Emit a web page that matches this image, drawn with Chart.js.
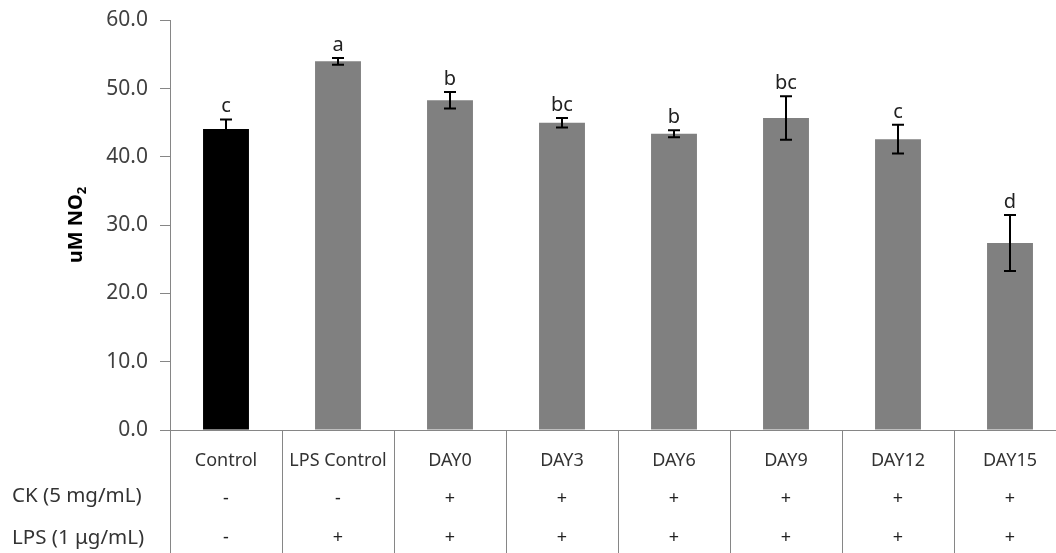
<!DOCTYPE html>
<html>
<head>
<meta charset="utf-8">
<script src="https://cdn.jsdelivr.net/npm/chart.js@4.4.0/dist/chart.umd.min.js"></script>
<style>
  html, body { margin: 0; padding: 0; background: #fff; overflow: hidden; }
  #wrap { width: 1056px; height: 553px; overflow: hidden; }
</style>
</head>
<body>
<div id="wrap"><canvas id="myChart" width="1066" height="553"></canvas></div>
<script>
var categories = ['Control', 'LPS Control', 'DAY0', 'DAY3', 'DAY6', 'DAY9', 'DAY12', 'DAY15'];
var no2Values = [44.1, 54.0, 48.3, 45.0, 43.4, 45.7, 42.6, 27.4];
var no2Errors = [1.4, 0.5, 1.2, 0.7, 0.5, 3.2, 2.1, 4.1];
var sigLetters = ['c', 'a', 'b', 'bc', 'b', 'bc', 'c', 'd'];
var ckRow = ['-', '-', '+', '+', '+', '+', '+', '+'];
var lpsRow = ['-', '+', '+', '+', '+', '+', '+', '+'];
var rowLabels = ['CK (5 mg/mL)', 'LPS (1 \u03bcg/mL)'];
var yTickLabels = ['0.0', '10.0', '20.0', '30.0', '40.0', '50.0', '60.0'];

var FONT = '"Noto Sans", "Open Sans", sans-serif';
var barColors = ['#000000', '#808080', '#808080', '#808080', '#808080', '#808080', '#808080', '#808080'];

var extras = {
  id: 'extras',
  afterDatasetsDraw: function(chart) {
    var ctx = chart.ctx;
    var xs = chart.scales.x, ys = chart.scales.y;
    ctx.save();
    ctx.strokeStyle = '#000';
    ctx.lineWidth = 2;
    for (var i = 0; i < no2Values.length; i++) {
      var x = xs.getPixelForValue(i);
      var top = ys.getPixelForValue(no2Values[i] + no2Errors[i]);
      var bot = ys.getPixelForValue(no2Values[i] - no2Errors[i]);
      ctx.beginPath();
      ctx.moveTo(x, top); ctx.lineTo(x, bot);
      ctx.moveTo(x - 6, top); ctx.lineTo(x + 6, top);
      ctx.moveTo(x - 6, bot); ctx.lineTo(x + 6, bot);
      ctx.stroke();
      ctx.fillStyle = '#222';
      ctx.font = '20px ' + FONT;
      ctx.textAlign = 'center';
      ctx.textBaseline = 'bottom';
      ctx.fillText(sigLetters[i], x, top - 3);
    }
    ctx.restore();
  },
  afterDraw: function(chart) {
    var ctx = chart.ctx;
    var xs = chart.scales.x;
    var area = chart.chartArea;
    var n = categories.length;
    var step = xs.width / n;
    ctx.save();
    // separators under the axis
    ctx.strokeStyle = '#868686';
    ctx.lineWidth = 1;
    for (var i = 0; i <= n; i++) {
      var sx = Math.round(xs.left + i * step) + 0.5;
      ctx.beginPath();
      ctx.moveTo(sx, area.bottom);
      ctx.lineTo(sx, chart.height);
      ctx.stroke();
    }
    // treatment rows
    ctx.fillStyle = '#222';
    ctx.font = '18px ' + FONT;
    ctx.textAlign = 'center';
    ctx.textBaseline = 'middle';
    for (var j = 0; j < n; j++) {
      var cx = xs.getPixelForValue(j);
      ctx.fillText(ckRow[j], cx, 499);
      ctx.fillText(lpsRow[j], cx, 538);
    }
    ctx.fillStyle = '#333';
    ctx.font = '20.5px ' + FONT;
    ctx.textAlign = 'left';
    ctx.fillText(rowLabels[0], 12, 496);
    ctx.fillText(rowLabels[1], 12, 538);
    // y title with subscript
    ctx.translate(76, 225);
    ctx.rotate(-Math.PI / 2);
    ctx.fillStyle = '#000';
    ctx.font = 'bold 20px ' + FONT;
    var main = 'uM NO';
    var w = ctx.measureText(main).width;
    ctx.font = 'bold 13px ' + FONT;
    var w2 = ctx.measureText('2').width;
    var start = -(w + w2) / 2;
    ctx.font = 'bold 20px ' + FONT;
    ctx.textAlign = 'left';
    ctx.fillText(main, start, 0);
    ctx.font = 'bold 13px ' + FONT;
    ctx.fillText('2', start + w, 6);
    ctx.restore();
  }
};

var ctx = document.getElementById('myChart').getContext('2d');
var chart = new Chart(ctx, {
  type: 'bar',
  data: {
    labels: categories,
    datasets: [{
      data: no2Values,
      backgroundColor: barColors,
      borderWidth: 0,
      categoryPercentage: 1.0,
      barPercentage: 0.41
    }]
  },
  options: {
    responsive: false,
    animation: false,
    layout: { padding: { top: 19, left: 0, right: 0, bottom: 0 } },
    plugins: {
      legend: { display: false },
      tooltip: { enabled: false }
    },
    scales: {
      x: {
        grid: { display: false },
        border: { display: true, color: '#868686', width: 1 },
        ticks: {
          color: '#333',
          font: { family: FONT, size: 18 },
          padding: 12,
          maxRotation: 0,
          autoSkip: false
        },
        afterFit: function(scale) { scale.height = 123; }
      },
      y: {
        min: 0,
        max: 60,
        ticks: {
          stepSize: 10,
          color: '#404040',
          font: { family: FONT, size: 21, lineHeight: 0.8 },
          padding: 12,
          callback: function(v, i) { return yTickLabels[i]; }
        },
        grid: { drawOnChartArea: false, drawTicks: true, tickLength: 10, color: '#868686' },
        border: { color: '#868686', width: 1 },
        afterFit: function(scale) { scale.width = 170; }
      }
    }
  },
  plugins: [extras]
});
</script>
</body>
</html>
